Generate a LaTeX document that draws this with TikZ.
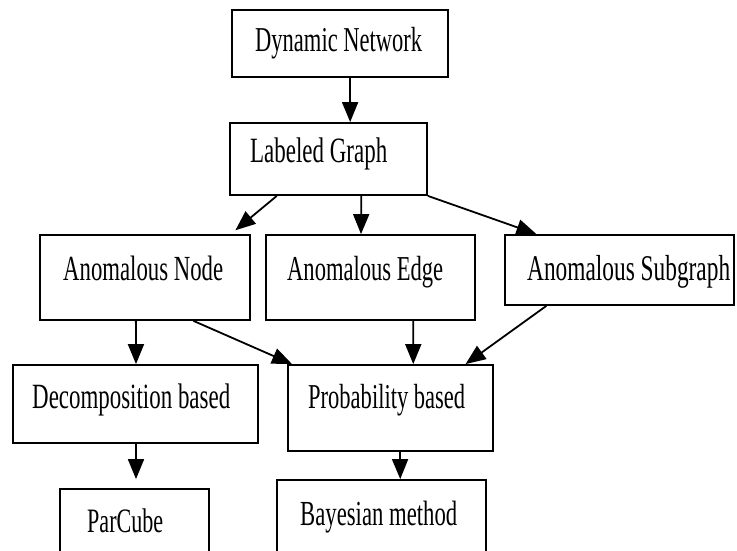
\documentclass[tikz,border=0pt]{standalone}
\usepackage{fontspec}
\setmainfont{Liberation Serif}
\usetikzlibrary{arrows.meta,calc}

% text set at a fixed width and stretched upright
\newcommand{\lbl}[2]{\scalebox{1}[1.55]{\resizebox{#1pt}{!}{\fontsize{22.5}{27}\selectfont #2}}}

\tikzset{
  box/.style={draw=black, line width=1.8pt, fill=white, inner sep=0pt},
  txt/.style={anchor=base west, inner sep=0pt},
  arr/.style={line width=1.8pt, -{Triangle[length=20pt,width=16pt]}},
}

\begin{document}
\begin{tikzpicture}[x=1pt,y=-1pt]
\useasboundingbox (0,0) rectangle (737,551);
\clip (0,0) rectangle (737,551);
\fill[white] (0,0) rectangle (737,551);

% boxes
\node[box, minimum width=216pt, minimum height=67pt] (dn) at (340,43.5) {};
\node[box, minimum width=197pt, minimum height=72pt] (lg) at (328.5,159) {};
\node[box, minimum width=210pt, minimum height=85pt] (an) at (145,277.5) {};
\node[box, minimum width=209pt, minimum height=85pt] (ae) at (370.5,277.5) {};
\node[box, minimum width=229pt, minimum height=70pt] (as) at (619.5,270) {};
\node[box, minimum width=245pt, minimum height=78pt] (db) at (135.5,404) {};
\node[box, minimum width=205pt, minimum height=86pt] (pb) at (390.5,408) {};
\node[box, minimum width=149pt, minimum height=81pt] (pc) at (134.5,529.5) {};
\node[box, minimum width=209pt, minimum height=90pt] (bm) at (381.5,525) {};

% labels
\node[txt] (tdn) at (255,52)  {\lbl{167}{Dynamic Network}};
\node[txt] (tlg) at (250,163) {\lbl{137}{Labeled Graph}};
\node[txt] (tan) at (63,280)  {\lbl{160}{Anomalous Node}};
\node[txt] (tae) at (287,280) {\lbl{156}{Anomalous Edge}};
\node[txt] (tas) at (527,280) {\lbl{203}{Anomalous Subgraph}};
\node[txt] (tdb) at (32,408)  {\lbl{198}{Decomposition based}};
\node[txt] (tpb) at (308,408) {\lbl{157}{Probability based}};
\node[txt] (tpc) at (87,532)  {\lbl{76}{ParCube}};
\node[txt] (tbm) at (300,525) {\lbl{157}{Bayesian method}};

% connectors
\draw[arr] ($(dn.south west)!.546!(dn.south east)$) -- ($(lg.north west)!.609!(lg.north east)$);
\draw[arr, shorten >=6pt] ($(lg.south west)!.24!(lg.south east)$) -- ($(an.north west)!.905!(an.north east)$);
\draw[arr] ($(lg.south west)!.665!(lg.south east)$) -- ($(ae.north west)!.455!(ae.north east)$);
\draw[arr] (lg.south east) -- ($(as.north west)!.14!(as.north east)$);
\draw[arr] ($(an.south west)!.457!(an.south east)$) -- ($(db.north west)!.502!(db.north east)$);
\draw[arr] ($(an.south west)!.729!(an.south east)$) -- ($(pb.north west)!.024!(pb.north east)$);
\draw[arr] ($(ae.south west)!.703!(ae.south east)$) -- ($(pb.north west)!.61!(pb.north east)$);
\draw[arr] ($(as.south west)!.183!(as.south east)$) -- ($(pb.north west)!.863!(pb.north east)$);
\draw[arr, shorten >=9pt] ($(db.south west)!.502!(db.south east)$) -- ($(pc.north west)!.51!(pc.north east)$);
\draw[arr] ($(pb.south west)!.546!(pb.south east)$) -- ($(bm.north west)!.589!(bm.north east)$);
\end{tikzpicture}
\end{document}
